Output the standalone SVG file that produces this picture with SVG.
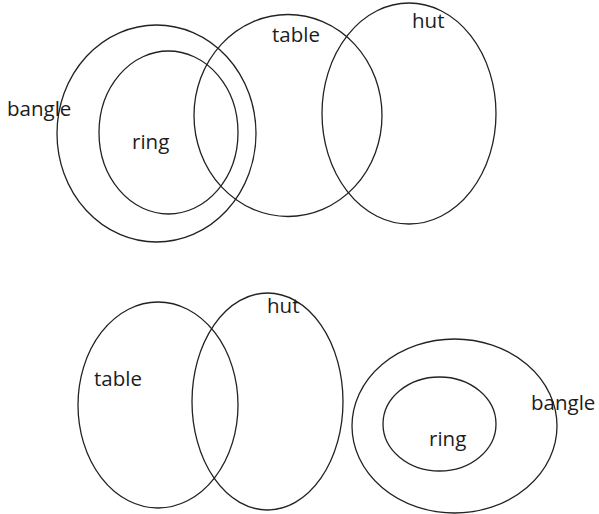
<svg xmlns="http://www.w3.org/2000/svg" width="599" height="514" viewBox="0 0 599 514">
<style>
.set{fill:none;stroke:#222;stroke-width:1.3}
.lbl{font-family:"Open Sans","Liberation Sans",sans-serif;font-size:20.5px;fill:#1c1c1c}
</style>
<rect width="599" height="514" fill="#fff"/>
<g id="top-diagram">
<g id="top-bangle"><ellipse class="set" cx="156.5" cy="133.5" rx="99.5" ry="108.5"/><text class="lbl" x="7" y="116">bangle</text></g>
<g id="top-ring"><ellipse class="set" cx="168.5" cy="132.5" rx="69.5" ry="81.5"/><text class="lbl" x="132" y="149">ring</text></g>
<g id="top-table"><ellipse class="set" cx="288" cy="115.5" rx="94" ry="101"/><text class="lbl" x="272" y="42">table</text></g>
<g id="top-hut"><ellipse class="set" cx="409" cy="113.5" rx="87" ry="110.5"/><text class="lbl" x="412" y="28">hut</text></g>
</g>
<g id="bottom-diagram">
<g id="bottom-table"><ellipse class="set" cx="158" cy="405" rx="80" ry="103"/><text class="lbl" x="94" y="386">table</text></g>
<g id="bottom-hut"><ellipse class="set" cx="267.5" cy="401.5" rx="75.5" ry="108.5"/><text class="lbl" x="267" y="313">hut</text></g>
<g id="bottom-bangle"><ellipse class="set" cx="454.5" cy="426" rx="102.5" ry="87"/><text class="lbl" x="531" y="410">bangle</text></g>
<g id="bottom-ring"><ellipse class="set" cx="439.5" cy="424" rx="56.5" ry="47"/><text class="lbl" x="429" y="446">ring</text></g>
</g>
<g id="connectors"/>
</svg>
